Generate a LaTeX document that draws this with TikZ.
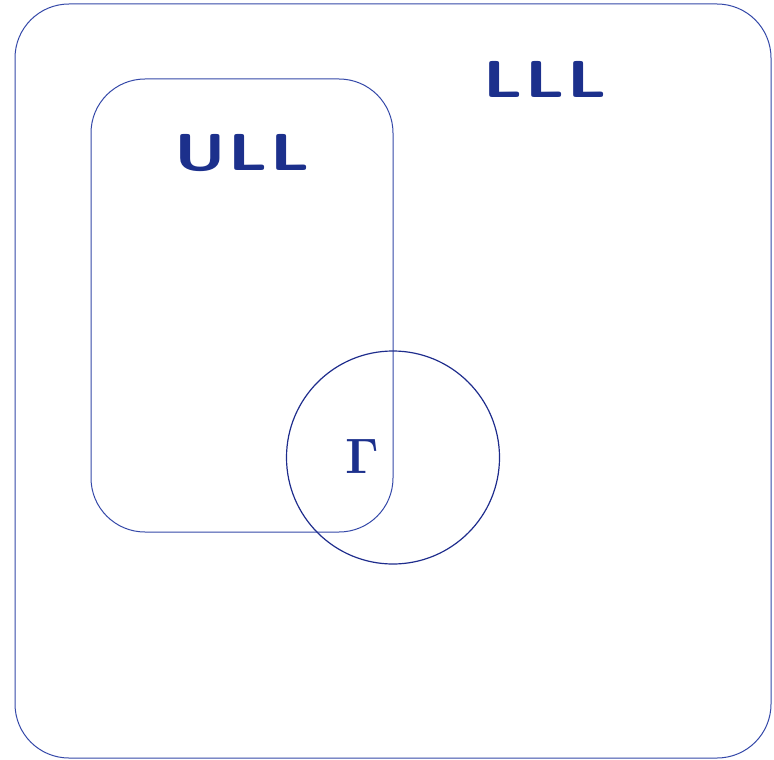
\documentclass[tikz,border=0pt]{standalone}
\usepackage{tikz}
\usepackage{graphicx}
\usetikzlibrary{positioning}
\usepackage{xcolor}
\definecolor{setblue}{RGB}{52,72,168}
\definecolor{gammablue}{RGB}{30,44,140}
\definecolor{labelblue}{RGB}{28,48,140}
\newcommand{\setname}[1]{\scalebox{1.3}[1]{#1}}

\begin{document}
\begin{tikzpicture}[x=0.5pt,y=-0.5pt]
  \tikzset{
    box/.style={draw=setblue,line width=0.5pt,rounded corners=27pt,inner sep=0pt},
    gammaset/.style={circle,draw=gammablue,line width=0.6pt,inner sep=0pt,minimum size=106.5pt},
    lab/.style={text=labelblue,font=\fontsize{26}{30}\selectfont\sffamily\bfseries},
  }
  \useasboundingbox (0,0) rectangle (774,759);

  \node[box,minimum width=378pt,minimum height=377pt] (lll) at (393,381) {};
  \node[box,minimum width=151pt,minimum height=226.5pt] (ull) at (242,305.5) {};
  \node[gammaset] (gamma) at (393,457.5) {};

  \node[lab] (lllname) at (545,79) {\setname{L\kern1pt L\kern1pt L}};
  \node[lab] (ullname) at (242,153) {\setname{U\kern1pt L\kern1pt L}};
  \node[text=labelblue,font=\fontsize{27}{30}\selectfont] (gammaname) at (362,456) {$\mathbf{\Gamma}$};
\end{tikzpicture}
\end{document}
